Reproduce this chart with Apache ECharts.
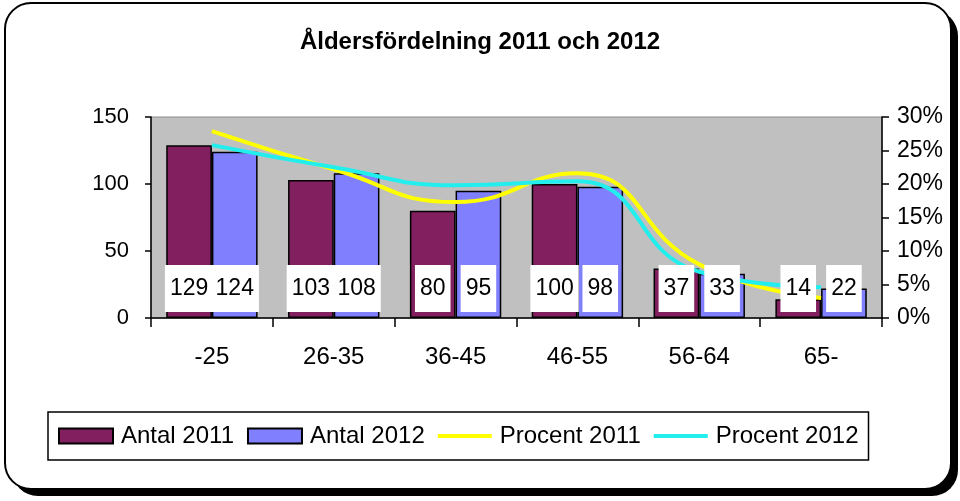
<!DOCTYPE html>
<html>
<head>
<meta charset="utf-8">
<script src="https://cdn.jsdelivr.net/npm/echarts@6/dist/echarts.min.js"></script>
<style>
  html, body { margin: 0; padding: 0; background: #fff; }
  #chart { width: 960px; height: 501px; }
</style>
</head>
<body>
<div id="chart"></div>
<script>
var categories = ['-25', '26-35', '36-45', '46-55', '56-64', '65-']
var antal2011 = [129, 103, 80, 100, 37, 14]
var antal2012 = [124, 108, 95, 98, 33, 22]
var procent2011 = [27.9, 22.2, 17.3, 21.6, 8.0, 3.0]
var procent2012 = [25.8, 22.5, 19.8, 20.4, 6.9, 4.6]

var font = 'Liberation Sans, Arial, sans-serif'
// flat line swatch for the legend (moveTo points keep the full 54x15 box)
var lineIcon = 'path://M0,0 M0,5.5 L54,5.5 L54,9.5 L0,9.5 Z M54,15'
var chart = echarts.init(document.getElementById('chart'))

// white label boxes, drawn on top of the lines
function labelSeries(name, data) {
  return {
    name: name + ' label',
    type: 'bar',
    xAxisIndex: 1,
    data: data,
    barGap: 0,
    barCategoryGap: '25%',
    z: 10,
    silent: true,
    itemStyle: { color: 'rgba(0,0,0,0)' },
    label: {
      show: true,
      position: 'insideBottom',
      distance: 6,
      color: '#000',
      fontFamily: font,
      fontSize: 23,
      lineHeight: 23,
      backgroundColor: '#fff',
      padding: [12, 5, 12, 5]
    }
  }
}

chart.setOption({
  animation: false,
  graphic: [
    { type: 'rect', z: -10, silent: true, shape: { x: 12, y: 10, width: 946, height: 486, r: 26 }, style: { fill: '#000' } },
    { type: 'rect', z: -9, silent: true, shape: { x: 5, y: 3, width: 946, height: 486, r: 26 }, style: { fill: '#fff', stroke: '#000', lineWidth: 2 } }
  ],
  title: {
    text: 'Åldersfördelning 2011 och 2012',
    left: 'center',
    top: 25,
    textStyle: { fontFamily: font, fontSize: 24, fontWeight: 'bold', color: '#000' }
  },
  legend: {
    left: 48,
    top: 412,
    padding: [12, 10, 12, 10],
    itemWidth: 54,
    itemHeight: 15,
    itemGap: 13,
    borderColor: '#000',
    borderWidth: 1.5,
    data: [
      { name: 'Antal 2011', icon: 'rect' },
      { name: 'Antal 2012', icon: 'rect' },
      { name: 'Procent 2011', icon: lineIcon },
      { name: 'Procent 2012', icon: lineIcon }
    ],
    textStyle: { fontFamily: font, fontSize: 24, color: '#000', padding: [0, 0, 0, 3] }
  },
  grid: {
    left: 151,
    right: 78,
    top: 117,
    bottom: 183,
    show: true,
    backgroundColor: '#c0c0c0',
    borderColor: '#8a8a8a',
    borderWidth: 1
  },
  xAxis: [{
    type: 'category',
    data: categories,
    axisLine: { lineStyle: { color: '#000', width: 1.5 } },
    axisTick: { show: true, length: 9, lineStyle: { color: '#000', width: 1.5 } },
    axisLabel: { margin: 27, fontFamily: font, fontSize: 24, color: '#000' }
  }, {
    type: 'category',
    data: categories,
    show: false
  }],
  yAxis: [{
    type: 'value',
    min: 0,
    max: 150,
    interval: 50,
    splitLine: { show: false },
    axisLine: { show: true, lineStyle: { color: '#000', width: 1.5 } },
    axisTick: { show: true, length: 6, lineStyle: { color: '#000', width: 1.5 } },
    axisLabel: { margin: 22, fontFamily: font, fontSize: 22, color: '#000' }
  }, {
    type: 'value',
    min: 0,
    max: 30,
    interval: 5,
    position: 'right',
    splitLine: { show: false },
    axisLine: { show: true, lineStyle: { color: '#000', width: 1.5 } },
    axisTick: { show: true, length: 7, lineStyle: { color: '#000', width: 1.5 } },
    axisLabel: { margin: 15, formatter: '{value}%', fontFamily: font, fontSize: 23, color: '#000' }
  }],
  series: [{
    name: 'Antal 2011',
    type: 'bar',
    data: antal2011,
    barGap: 0,
    barCategoryGap: '25%',
    z: 1,
    itemStyle: { color: '#82205f', borderColor: '#000', borderWidth: 1.5 }
  }, {
    name: 'Antal 2012',
    type: 'bar',
    data: antal2012,
    barGap: 0,
    barCategoryGap: '25%',
    z: 1,
    itemStyle: { color: '#8080ff', borderColor: '#000', borderWidth: 1.5 }
  }, {
    name: 'Procent 2011',
    type: 'line',
    yAxisIndex: 1,
    data: procent2011,
    smooth: true,
    symbol: 'none',
    z: 3,
    itemStyle: { color: '#ffff00' },
    lineStyle: { color: '#ffff00', width: 4 }
  }, {
    name: 'Procent 2012',
    type: 'line',
    yAxisIndex: 1,
    data: procent2012,
    smooth: true,
    symbol: 'none',
    z: 4,
    itemStyle: { color: '#22eeee' },
    lineStyle: { color: '#22eeee', width: 4 }
  },
    labelSeries('Antal 2011', antal2011),
    labelSeries('Antal 2012', antal2012)
  ]
})
</script>
</body>
</html>
